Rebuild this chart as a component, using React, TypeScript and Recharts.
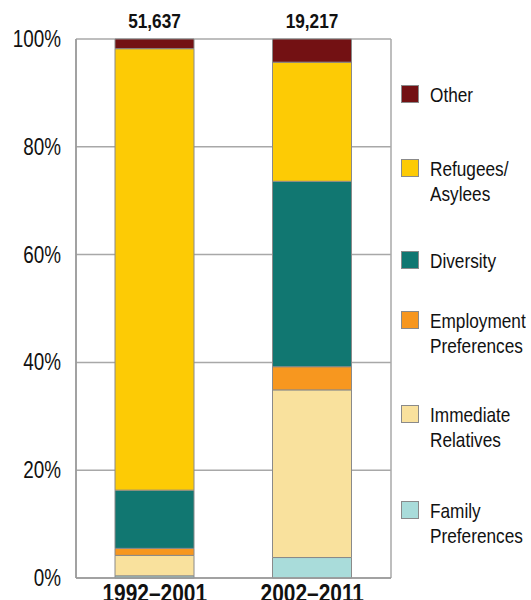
import React from "react";
import { BarChart, Bar, XAxis, YAxis, CartesianGrid, LabelList } from "recharts";

const categories = ["1992–2001", "2002–2011"];
const totals = ["51,637", "19,217"];
const familyPreferences = [0.4, 3.8];
const immediateRelatives = [3.8, 31.1];
const employmentPreferences = [1.3, 4.3];
const diversity = [10.8, 34.4];
const refugeesAsylees = [81.9, 22.1];
const other = [1.8, 4.3];
const yTicks = [0, 20, 40, 60, 80, 100];

const series = [
  { key: "family", name: "Family\nPreferences", values: familyPreferences, color: "#A9DCDA" },
  { key: "immediate", name: "Immediate\nRelatives", values: immediateRelatives, color: "#F9E19D" },
  { key: "employment", name: "Employment\nPreferences", values: employmentPreferences, color: "#F7971F" },
  { key: "diversity", name: "Diversity", values: diversity, color: "#117771" },
  { key: "refugees", name: "Refugees/\nAsylees", values: refugeesAsylees, color: "#FDCB05" },
  { key: "other", name: "Other", values: other, color: "#731113" },
];

const data = categories.map((c, i) => {
  const row: Record<string, string | number> = { category: c, total: totals[i] };
  series.forEach((s) => {
    row[s.key] = s.values[i];
  });
  return row;
});

const FONT = "'Liberation Sans', Arial, sans-serif";
const SQUEEZE = 0.82;

// legend layout (top of each swatch, px)
const legendTops: Record<string, number> = {
  other: 85,
  refugees: 159,
  diversity: 251,
  employment: 311,
  immediate: 405,
  family: 501,
};

const NarrowText = ({ x, y, anchor, size, bold, children }: any) => (
  <text
    transform={`translate(${x},${y}) scale(${SQUEEZE},1)`}
    textAnchor={anchor}
    fontFamily={FONT}
    fontWeight={bold ? "bold" : "normal"}
    fontSize={size}
    fill="#111"
  >
    {children}
  </text>
);

const YTick = (props: any) => {
  const { x, y, payload } = props;
  return (
    <NarrowText x={x} y={y + 8} anchor="end" size={23}>
      {payload.value}%
    </NarrowText>
  );
};

const XTick = (props: any) => {
  const { x, y, payload } = props;
  return (
    <NarrowText x={x} y={y + 24} anchor="middle" size={25.5} bold>
      {payload.value}
    </NarrowText>
  );
};

const TotalLabel = (props: any) => {
  const { x, y, width, value } = props;
  return (
    <NarrowText x={x + width / 2} y={y - 11} anchor="middle" size={21} bold>
      {value}
    </NarrowText>
  );
};

export default function App() {
  const legendItems = [...series].reverse();
  return (
    <div style={{ position: "absolute", left: 0, top: 0, width: 531, height: 600, background: "#fff", overflow: "hidden" }}>
      <BarChart
        width={531}
        height={600}
        data={data}
        margin={{ top: 39, right: 140, bottom: 0, left: 0 }}
        barSize={79}
      >
        <CartesianGrid
          stroke="#a8a8a8"
          strokeWidth={1.5}
          horizontalValues={yTicks}
          verticalCoordinatesGenerator={({ offset }: any) => [offset.left, offset.left + offset.width]}
        />
        <XAxis
          dataKey="category"
          height={22}
          axisLine={{ stroke: "#999", strokeWidth: 1.5 }}
          tickLine={false}
          tickSize={0}
          tickMargin={0}
          tick={<XTick />}
          interval={0}
        />
        <YAxis
          type="number"
          domain={[0, 100]}
          ticks={yTicks}
          width={76}
          axisLine={{ stroke: "#999", strokeWidth: 1.5 }}
          tickLine={false}
          tickSize={0}
          tickMargin={15}
          tick={<YTick />}
          interval={0}
        />
        {series.map((s) => (
          <Bar
            key={s.key}
            dataKey={s.key}
            name={s.name}
            stackId="a"
            fill={s.color}
            stroke="#8a8a8a"
            strokeWidth={1}
            isAnimationActive={false}
          >
            {s.key === "other" ? <LabelList dataKey="total" content={<TotalLabel />} /> : null}
          </Bar>
        ))}
      </BarChart>
      {legendItems.map((s) => {
        const top = legendTops[s.key];
        return (
          <React.Fragment key={s.key}>
            <div
              style={{
                position: "absolute",
                left: 401,
                top,
                width: 16,
                height: 16,
                background: s.color,
                border: "1px solid #8a8a8a",
              }}
            />
            <div
              style={{
                position: "absolute",
                left: 430,
                top: top - 2,
                fontFamily: FONT,
                fontSize: 21,
                lineHeight: "24.5px",
                color: "#111",
                whiteSpace: "pre",
                transform: `scaleX(${SQUEEZE})`,
                transformOrigin: "0 0",
              }}
            >
              {s.name}
            </div>
          </React.Fragment>
        );
      })}
    </div>
  );
}
